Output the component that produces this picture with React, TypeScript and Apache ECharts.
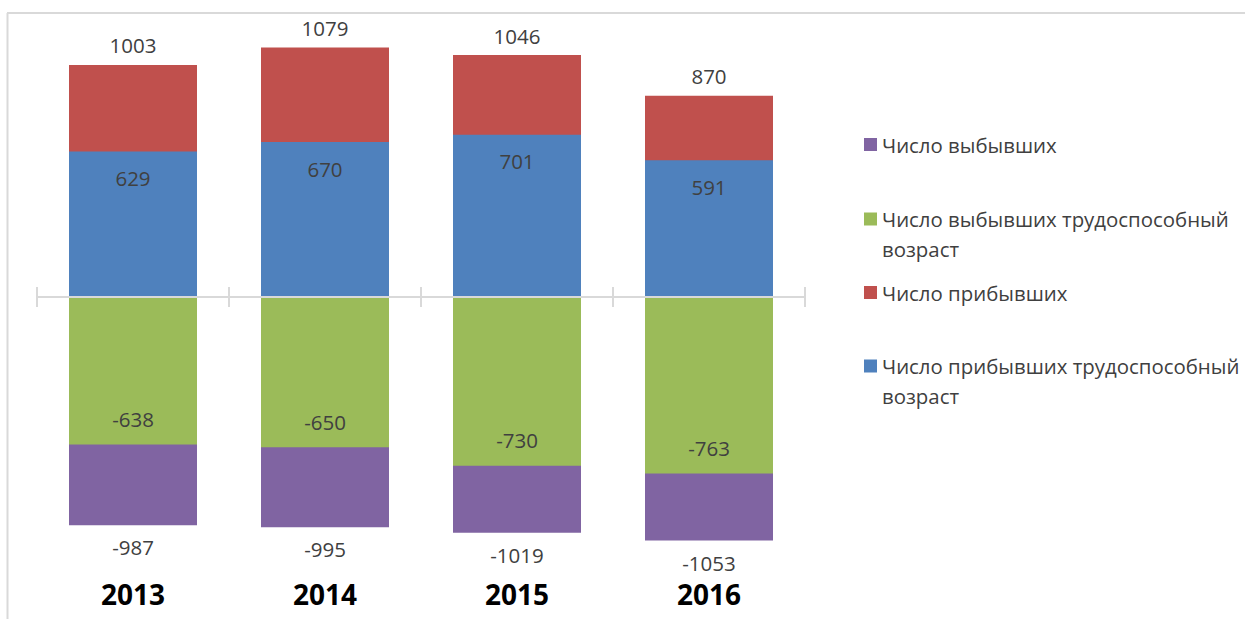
import React, { useEffect, useRef } from "react";
import * as echarts from "echarts";

const years = ["2013", "2014", "2015", "2016"];
const arrivedTotal = [1003, 1079, 1046, 870];
const arrivedWorking = [629, 670, 701, 591];
const departedTotal = [-987, -995, -1019, -1053];
const departedWorking = [-638, -650, -730, -763];

const NAME_DEP = "Число выбывших";
const NAME_DEP_W = "Число выбывших трудоспособный возраст";
const NAME_ARR = "Число прибывших";
const NAME_ARR_W = "Число прибывших трудоспособный возраст";

const FONT = "'Open Sans', 'Noto Sans', sans-serif";
const LABEL_COLOR = "#404040";

export default function App() {
  const ref = useRef<HTMLDivElement>(null);
  useEffect(() => {
    if (!ref.current) return;
    const chart = echarts.init(ref.current, undefined, { renderer: "svg" });
    const labelBase = { show: true, color: LABEL_COLOR, fontSize: 20.5, fontFamily: FONT };
    const mkLegend = (name: string, centerY: number, twoLine: boolean) => ({
      show: true,
      data: [name],
      left: 864,
      top: twoLine ? centerY - 44 : centerY - 15.5,
      orient: "vertical",
      padding: 0,
      itemWidth: 13,
      itemHeight: 13,
      icon: "rect",
      formatter: (n: string) =>
        n.indexOf(" трудоспособный ") >= 0 ? "\n" + n.replace(" трудоспособный ", " трудоспособный\n") : n,
      textStyle: {
        color: LABEL_COLOR,
        fontSize: 20.4,
        fontFamily: FONT,
        lineHeight: 30,
      },
    });
    const yAx = { type: "value", min: -1200, max: 1200, show: false, splitLine: { show: false } };
    chart.setOption({
      animation: false,
      grid: { left: 37, right: 440, top: 19.4, bottom: 44.4, containLabel: false },
      legend: [
        mkLegend(NAME_DEP, 145, false),
        mkLegend(NAME_DEP_W, 218, true),
        mkLegend(NAME_ARR, 293, false),
        mkLegend(NAME_ARR_W, 365, true),
      ],
      xAxis: [
        {
          type: "category",
          data: years,
          position: "bottom",
          axisLine: { show: false, onZero: false },
          axisTick: { show: false },
          axisLabel: {
            color: "#000",
            fontSize: 28,
            fontWeight: "bold",
            fontFamily: FONT,
            lineHeight: 28,
            margin: 5,
          },
        },
        {
          type: "category",
          data: years,
          position: "bottom",
          z: 5,
          axisLine: { show: true, onZero: true, onZeroAxisIndex: 0, lineStyle: { color: "#d9d9d9", width: 2 } },
          axisTick: { show: true, inside: false, length: 10, lineStyle: { color: "#d9d9d9", width: 2 } },
          axisLabel: { show: false },
        },
        {
          type: "category",
          data: years,
          position: "top",
          z: 5,
          axisLine: { show: true, onZero: true, onZeroAxisIndex: 1, lineStyle: { color: "#d9d9d9", width: 2 } },
          axisTick: { show: true, inside: false, length: 10, lineStyle: { color: "#d9d9d9", width: 2 } },
          axisLabel: { show: false },
        },
      ],
      yAxis: [yAx, { ...yAx }],
      series: [
        {
          name: NAME_ARR,
          type: "bar",
          data: arrivedTotal,
          barWidth: 128,
          barGap: "-100%",
          itemStyle: { color: "#C0504D" },
          label: { ...labelBase, position: "top", distance: 9 },
        },
        {
          name: NAME_DEP,
          type: "bar",
          data: departedTotal,
          barWidth: 128,
          barGap: "-100%",
          itemStyle: { color: "#8064A2" },
          label: { ...labelBase, lineHeight: 20, position: "bottom", distance: 12 },
        },
        {
          name: NAME_ARR_W,
          type: "bar",
          data: arrivedWorking,
          barWidth: 128,
          barGap: "-100%",
          itemStyle: { color: "#4F81BD" },
          label: { ...labelBase, position: "insideTop", distance: 16 },
        },
        {
          name: NAME_DEP_W,
          type: "bar",
          data: departedWorking,
          barWidth: 128,
          barGap: "-100%",
          itemStyle: { color: "#9BBB59" },
          label: { ...labelBase, position: "insideBottom", distance: 15 },
        },
      ],
      graphic: [
        { type: "line", shape: { x1: 7, y1: 13, x2: 1245, y2: 13 }, style: { stroke: "#d9d9d9", lineWidth: 2 } },
        { type: "line", shape: { x1: 7.5, y1: 13, x2: 7.5, y2: 619 }, style: { stroke: "#d9d9d9", lineWidth: 2 } },
      ],
    });
    return () => chart.dispose();
  }, []);
  return (
    <div
      ref={ref}
      style={{ position: "absolute", left: 0, top: 0, width: 1245, height: 619, background: "#fff" }}
    />
  );
}
